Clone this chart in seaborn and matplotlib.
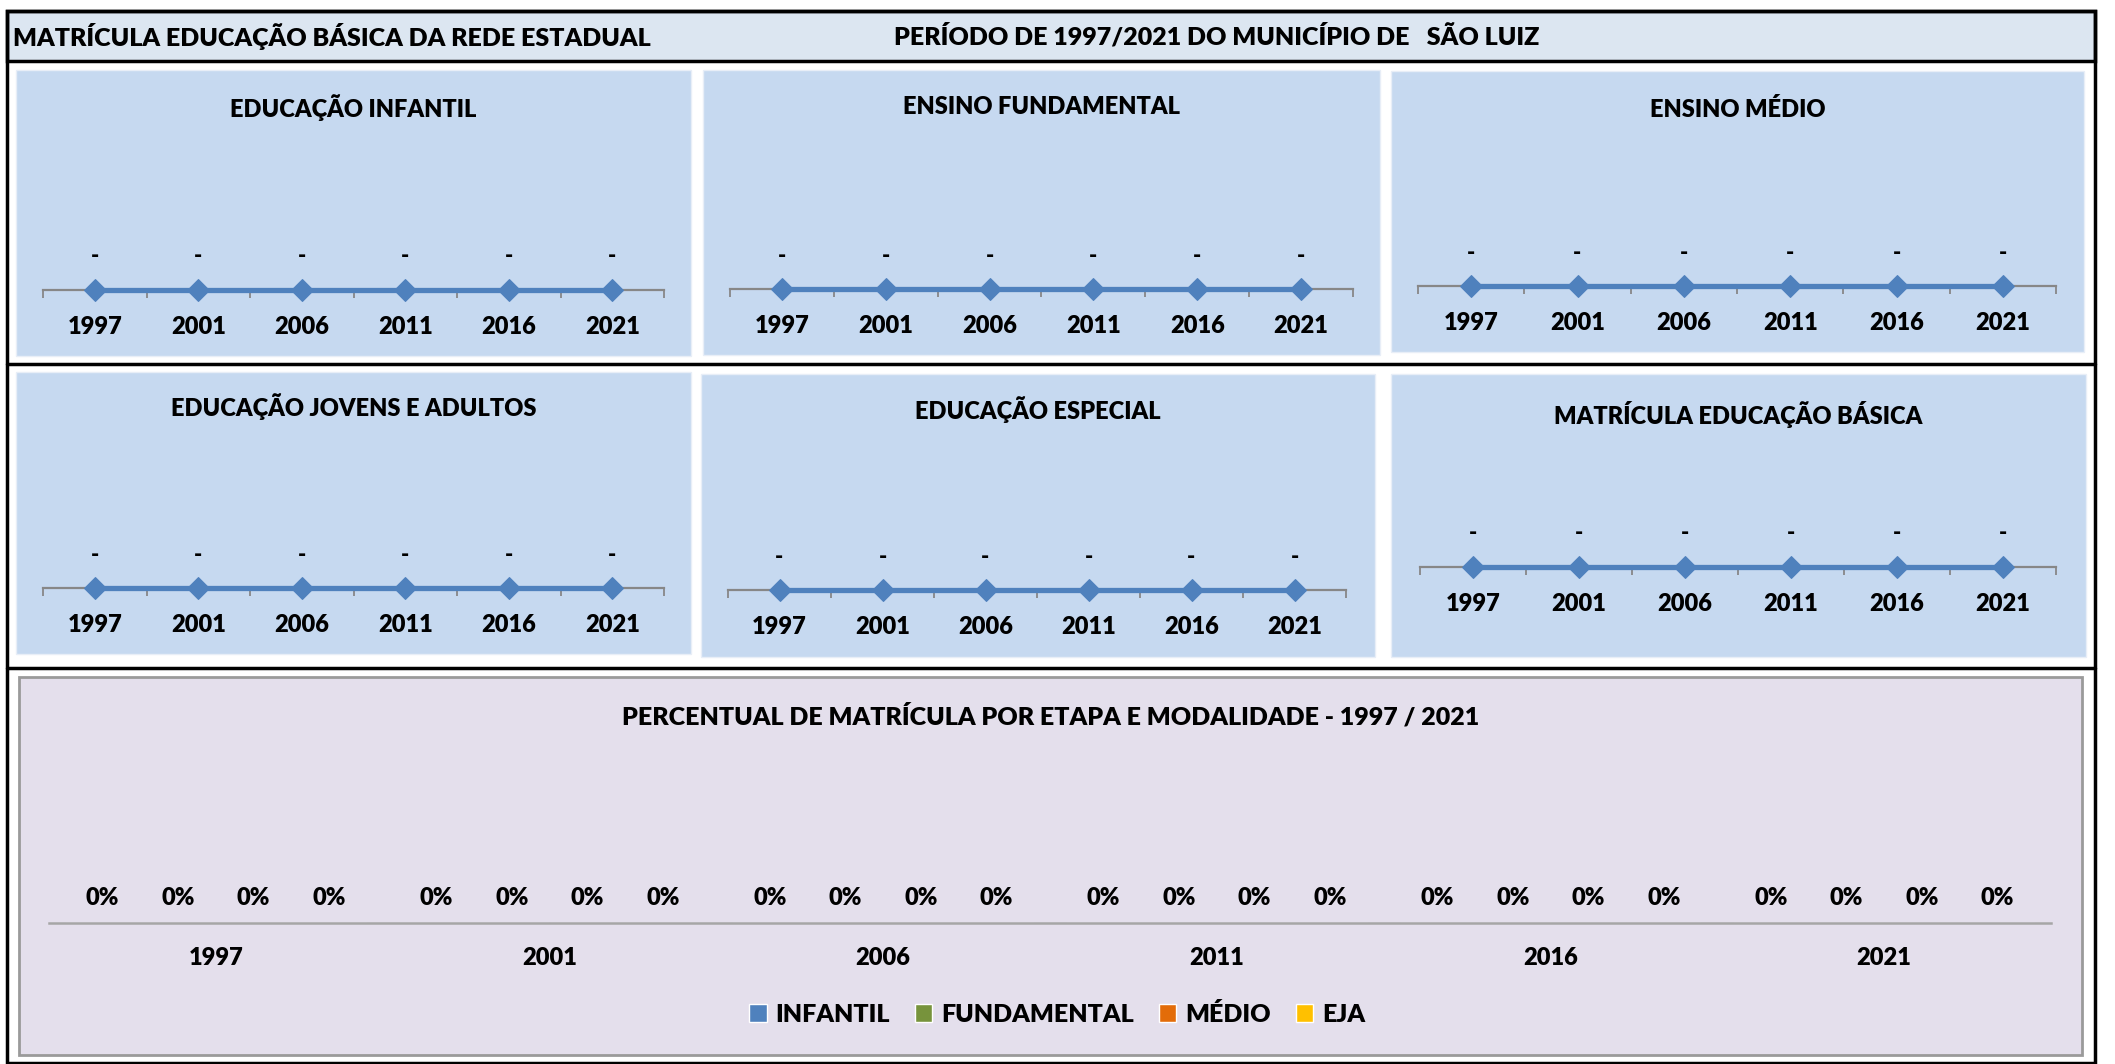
import numpy as np
import pandas as pd
import matplotlib
matplotlib.use("Agg")
import matplotlib.pyplot as plt
from matplotlib.patches import Rectangle
import seaborn as sns

# dados (todas as matrículas estão zeradas na fonte)
anos = ["1997", "2001", "2006", "2011", "2016", "2021"]

titulos = ["EDUCAÇÃO INFANTIL", "ENSINO FUNDAMENTAL", "ENSINO MÉDIO",
           "EDUCAÇÃO JOVENS E ADULTOS", "EDUCAÇÃO ESPECIAL", "MATRÍCULA EDUCAÇÃO BÁSICA"]

mat_infantil = [0, 0, 0, 0, 0, 0]
mat_fundamental = [0, 0, 0, 0, 0, 0]
mat_medio = [0, 0, 0, 0, 0, 0]
mat_eja = [0, 0, 0, 0, 0, 0]
mat_especial = [0, 0, 0, 0, 0, 0]
mat_basica = [0, 0, 0, 0, 0, 0]

etapas = ["INFANTIL", "FUNDAMENTAL", "MÉDIO", "EJA"]
pct_infantil = [0, 0, 0, 0, 0, 0]
pct_fundamental = [0, 0, 0, 0, 0, 0]
pct_medio = [0, 0, 0, 0, 0, 0]
pct_eja = [0, 0, 0, 0, 0, 0]

titulo_esq = "MATRÍCULA EDUCAÇÃO BÁSICA DA REDE ESTADUAL"
titulo_dir = "PERÍODO DE 1997/2021 DO MUNICÍPIO DE   SÃO LUIZ"
titulo_pct = "PERCENTUAL DE MATRÍCULA POR ETAPA E MODALIDADE - 1997 / 2021"

sns.set_style("white")
FONT = ["Lato", "DejaVu Sans"]
plt.rcParams["font.family"] = FONT
plt.rcParams["font.weight"] = "heavy"
plt.rcParams["text.color"] = "black"
plt.rcParams["xtick.color"] = "black"

W, H = 2115, 1064
BLUE = "#4F81BD"
GREY = "#878787"
cores = ["#4F81BD", "#77933C", "#E36C09", "#FFC000"]

fig = plt.figure(figsize=(W / 100, H / 100), dpi=100)
fig.patch.set_facecolor("white")


def rect(x0, y0, x1, y1):
    return [x0 / W, 1 - y1 / H, (x1 - x0) / W, (y1 - y0) / H]


def box(x0, y0, x1, y1, fc, ec, lw, z=0):
    fig.add_artist(Rectangle((x0 / W, 1 - y1 / H), (x1 - x0) / W, (y1 - y0) / H,
                             transform=fig.transFigure, facecolor=fc,
                             edgecolor=ec, linewidth=lw, zorder=z))


def hline(y, x0=7, x1=2095, lw=2.5):
    fig.add_artist(plt.Line2D([x0 / W, x1 / W], [1 - y / H, 1 - y / H],
                              transform=fig.transFigure, color="black", lw=lw, zorder=3))


def fmt_num(v):
    return "-" if v == 0 else f"{v:,.0f}".replace(",", ".")


# moldura e cabeçalho
box(7, 11, 2095, 1063, "none", "black", 2.5, z=3)
box(7, 11, 2095, 61, "#DCE6F1", "black", 2.5, z=1)
hline(364)
hline(668)
fig.text(13 / W, 1 - 36 / H, titulo_esq, fontsize=18, va="center", ha="left")
fig.text(894 / W, 1 - 36 / H, titulo_dir, fontsize=18, va="center", ha="left")

# painéis: (x0, y0, x1, y1, y_titulo, eixo_x0, eixo_x1, eixo_y)
paineis = [
    (16, 70, 691, 356, 108, 43, 664, 290),
    (703, 70, 1380, 355, 107, 730, 1353, 289),
    (1391, 71, 2084, 352, 109, 1418, 2056, 286),
    (16, 372, 691, 654, 407, 43, 664, 588),
    (701, 374, 1375, 657, 410, 728, 1346, 590),
    (1391, 374, 2086, 657, 414, 1420, 2056, 567),
]
series = [mat_infantil, mat_fundamental, mat_medio, mat_eja, mat_especial, mat_basica]

for (x0, y0, x1, y1, ty, ax0, ax1, ay), titulo, vals in zip(paineis, titulos, series):
    box(x0, y0, x1, y1, "#C6D9F0", "#E8EEF7", 1.0)
    fig.text((x0 + x1) / 2 / W, 1 - ty / H, titulo, fontsize=17, ha="center", va="center")
    ax = fig.add_axes(rect(ax0, ay - 110, ax1, ay))
    ax.patch.set_alpha(0)
    df = pd.DataFrame({"pos": np.arange(len(anos)), "valor": vals})
    sns.lineplot(data=df, x="pos", y="valor", color=BLUE, linewidth=3.8,
                 marker="D", markersize=11, markeredgecolor=BLUE, ax=ax)
    for ln in ax.lines:
        ln.set_clip_on(False)
        ln.set_zorder(5)
    ax.set_xlim(-0.5, len(anos) - 0.5)
    ax.set_ylim(0, 1)
    for i, v in enumerate(vals):
        ax.annotate(fmt_num(v), (i, v), xytext=(0, 33), textcoords="offset pixels",
                    ha="center", va="center", fontsize=16)
    ax.set_xticks(np.arange(-0.5, len(anos)), labels=[])
    ax.set_xticks(np.arange(len(anos)), labels=anos, minor=True)
    ax.tick_params(axis="x", which="major", bottom=True, direction="out",
                   length=6, width=1.3, color=GREY)
    ax.tick_params(axis="x", which="minor", bottom=True, length=0, pad=19, labelsize=17)
    plt.setp(ax.get_xticklabels(minor=True), fontweight="heavy")
    ax.set_yticks([])
    ax.set_xlabel("")
    ax.set_ylabel("")
    for s in ["top", "left", "right"]:
        ax.spines[s].set_visible(False)
    ax.spines["bottom"].set_color(GREY)
    ax.spines["bottom"].set_linewidth(1.6)

# percentual por etapa
box(19, 677, 2082, 1055, "#E4DFEC", "#9A9A9A", 2.0)
fig.text(1051 / W, 1 - 716 / H, titulo_pct, fontsize=18, ha="center", va="center")

pct = pd.DataFrame({
    "ano": anos * 4,
    "etapa": [e for e in etapas for _ in anos],
    "valor": pct_infantil + pct_fundamental + pct_medio + pct_eja,
})
axb = fig.add_axes(rect(49, 760, 2051, 923))
axb.patch.set_alpha(0)
sns.barplot(data=pct, x="ano", y="valor", hue="etapa", hue_order=etapas,
            palette=cores, width=0.905, errorbar=None, saturation=1, ax=axb)
for c in axb.containers:
    axb.bar_label(c, labels=[f"{b.get_height():.0%}" for b in c], padding=10,
                  fontsize=17, fontweight="heavy")
axb.set_ylim(0, 1)
axb.set_yticks([])
axb.set_xlabel("")
axb.set_ylabel("")
axb.tick_params(axis="x", length=0, pad=17, labelsize=17)
plt.setp(axb.get_xticklabels(), fontweight="heavy")
for s in ["top", "left", "right"]:
    axb.spines[s].set_visible(False)
axb.spines["bottom"].set_color("#A6A6A6")
axb.spines["bottom"].set_linewidth(1.8)

handles, labels = axb.get_legend_handles_labels()
axb.get_legend().remove()
fig.legend(handles, labels, loc="center", bbox_to_anchor=(1057 / W, 1 - 1014 / H),
           ncol=4, frameon=False, handlelength=0.7, handleheight=0.7,
           handletextpad=0.35, columnspacing=1.0,
           prop={"family": FONT, "weight": "heavy", "size": 18})

fig.savefig("out.png", dpi=100)
